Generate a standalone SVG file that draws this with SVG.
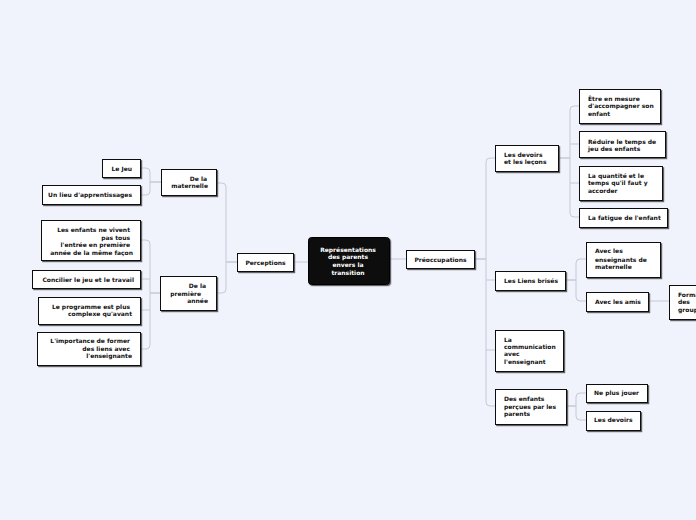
<svg xmlns="http://www.w3.org/2000/svg" width="696" height="520" viewBox="0 0 696 520">
<defs>
<filter id="sh" x="-10%" y="-10%" width="130%" height="140%"><feDropShadow dx="1.2" dy="1.2" stdDeviation="0.4" flood-color="#333" flood-opacity="0.75"/></filter>
<style>
.bx{fill:#fff;stroke:#111;stroke-width:1;filter:url(#sh)}
.ct{fill:#0b0b0b;stroke:#000;stroke-width:1;filter:url(#sh)}
text{font-family:"DejaVu Sans","Liberation Sans",sans-serif;font-weight:bold;font-size:6px;fill:#111}
.w{fill:#fff}
.e{text-anchor:end}
.m{text-anchor:middle}
.cn path{fill:none;stroke:#c6c9d6;stroke-width:1}
</style>
</defs>
<rect x="0" y="0" width="696" height="520" fill="#f0f2fc"/>
<g class="cn">
<path d="M293,262 H308"/>
<path d="M389,259 H406"/>
<path d="M237,262 H226 V187 Q226,183 222,183 H216"/>
<path d="M237,262 H226 V289 Q226,293 222,293 H216"/>
<path d="M161,182 H150 V172 Q150,168 146,168 H140"/>
<path d="M161,182 H150 V191 Q150,195 146,195 H140"/>
<path d="M160,293 H150 V244 Q150,240 146,240 H140"/>
<path d="M150,279 H140"/>
<path d="M150,310 H140"/>
<path d="M160,293 H150 V345 Q150,349 146,349 H140"/>
<path d="M474,259 H486 V162 Q486,158 490,158 H495"/>
<path d="M486,280 H495"/>
<path d="M486,350 H495"/>
<path d="M474,259 H486 V402 Q486,406 490,406 H495"/>
<path d="M558,158 H570 V110 Q570,106 574,106 H579"/>
<path d="M570,144 H579"/>
<path d="M570,183 H579"/>
<path d="M558,158 H570 V213 Q570,217 574,217 H579"/>
<path d="M565,280 H576 V263 Q576,259 580,259 H586"/>
<path d="M565,280 H576 V297 Q576,301 580,301 H586"/>
<path d="M648,301 H669"/>
<path d="M566,406 H576 V397 Q576,393 580,393 H586"/>
<path d="M566,406 H576 V416 Q576,420 580,420 H586"/>
</g>
<g id="center">
<rect class="ct" x="308.5" y="237.5" width="81" height="47" rx="3"/>
<text class="w m" x="348" y="251.5">Représentations</text>
<text class="w m" x="348" y="259">des parents</text>
<text class="w m" x="348" y="267">envers la</text>
<text class="w m" x="348" y="274.5">transition</text>
</g>
<g id="perceptions">
<rect class="bx" x="237.5" y="253.5" width="56" height="18"/>
<text class="m" x="265.5" y="264.5">Perceptions</text>
</g>
<g id="preoccupations">
<rect class="bx" x="406.5" y="250.5" width="68" height="18"/>
<text class="m" x="440.5" y="261.5">Préoccupations</text>
</g>
<g id="maternelle">
<rect class="bx" x="161.5" y="169.5" width="55" height="26"/>
<text class="e" x="207" y="180.5">De la</text>
<text class="e" x="208" y="187.8">maternelle</text>
</g>
<g id="premiere">
<rect class="bx" x="160.5" y="276.5" width="56" height="34"/>
<text class="e" x="206" y="288">De la</text>
<text class="e" x="201" y="295.5">première</text>
<text class="e" x="208" y="303">année</text>
</g>
<g id="lejeu">
<rect class="bx" x="102.5" y="159.5" width="38" height="18"/>
<text class="e" x="132" y="170.5">Le Jeu</text>
</g>
<g id="lieu">
<rect class="bx" x="42.5" y="185.5" width="98" height="19"/>
<text class="e" x="132" y="197">Un lieu d'apprentissages</text>
</g>
<g id="enfants">
<rect class="bx" x="41.5" y="220.5" width="99" height="40"/>
<text class="e" x="130" y="232">Les enfants ne vivent</text>
<text class="e" x="130" y="239.5">pas tous</text>
<text class="e" x="130" y="247">l'entrée en première</text>
<text class="e" x="133" y="254.5">année de la même façon</text>
</g>
<g id="concilier">
<rect class="bx" x="32.5" y="270.5" width="108" height="18"/>
<text class="e" x="134" y="281.5">Concilier le jeu et le travail</text>
</g>
<g id="programme">
<rect class="bx" x="38.5" y="297.5" width="102" height="27"/>
<text class="e" x="130" y="309">Le programme est plus</text>
<text class="e" x="132" y="316.3">complexe qu'avant</text>
</g>
<g id="importance">
<rect class="bx" x="37.5" y="332.5" width="103" height="33"/>
<text class="e" x="130" y="343.2">L'importance de former</text>
<text class="e" x="130" y="350.8">des liens avec</text>
<text class="e" x="132" y="358">l'enseignante</text>
</g>
<g id="devoirs">
<rect class="bx" x="495.5" y="145.5" width="63" height="26"/>
<text x="504" y="156.5">Les devoirs</text>
<text x="504" y="164">et les leçons</text>
</g>
<g id="mesure">
<rect class="bx" x="579.5" y="89.5" width="81" height="34"/>
<text x="588" y="100.5">Être en mesure</text>
<text x="588" y="108.3">d'accompagner son</text>
<text x="588" y="115.8">enfant</text>
</g>
<g id="reduire">
<rect class="bx" x="579.5" y="131.5" width="86" height="26"/>
<text x="588" y="144">Réduire le temps de</text>
<text x="588" y="151.3">jeu des enfants</text>
</g>
<g id="quantite">
<rect class="bx" x="579.5" y="166.5" width="83" height="34"/>
<text x="588" y="178">La quantité et le</text>
<text x="588" y="185.2">temps qu'il faut y</text>
<text x="588" y="192.5">accorder</text>
</g>
<g id="fatigue">
<rect class="bx" x="579.5" y="208.5" width="88" height="19"/>
<text x="588" y="219.5">La fatigue de l'enfant</text>
</g>
<g id="liens">
<rect class="bx" x="495.5" y="271.5" width="70" height="19"/>
<text x="504" y="283">Les Liens brisés</text>
</g>
<g id="enseignants">
<rect class="bx" x="586.5" y="242.5" width="74" height="35"/>
<text x="595" y="253.2">Avec les</text>
<text x="595" y="261.5">enseignants de</text>
<text x="595" y="269.2">maternelle</text>
</g>
<g id="amis">
<rect class="bx" x="586.5" y="292.5" width="62" height="19"/>
<text x="595" y="303.9">Avec les amis</text>
</g>
<g id="formation">
<rect class="bx" x="669.5" y="285.5" width="60" height="34"/>
<text x="678" y="296.5">Formation</text>
<text x="678" y="304">des</text>
<text x="678" y="311.5">groupes</text>
</g>
<g id="communication">
<rect class="bx" x="495.5" y="330.5" width="68" height="41"/>
<text x="504" y="342">La</text>
<text x="504" y="349.2">communication</text>
<text x="504" y="356.4">avec</text>
<text x="504" y="364">l'enseignant</text>
</g>
<g id="percues">
<rect class="bx" x="495.5" y="389.5" width="71" height="35"/>
<text x="504" y="401.2">Des enfants</text>
<text x="504" y="408.5">perçues par les</text>
<text x="504" y="416.2">parents</text>
</g>
<g id="jouer">
<rect class="bx" x="586.5" y="384.5" width="61" height="18"/>
<text x="594" y="395.2">Ne plus jouer</text>
</g>
<g id="devoirs2">
<rect class="bx" x="586.5" y="411.5" width="54" height="19"/>
<text x="594" y="422.2">Les devoirs</text>
</g>
</svg>
